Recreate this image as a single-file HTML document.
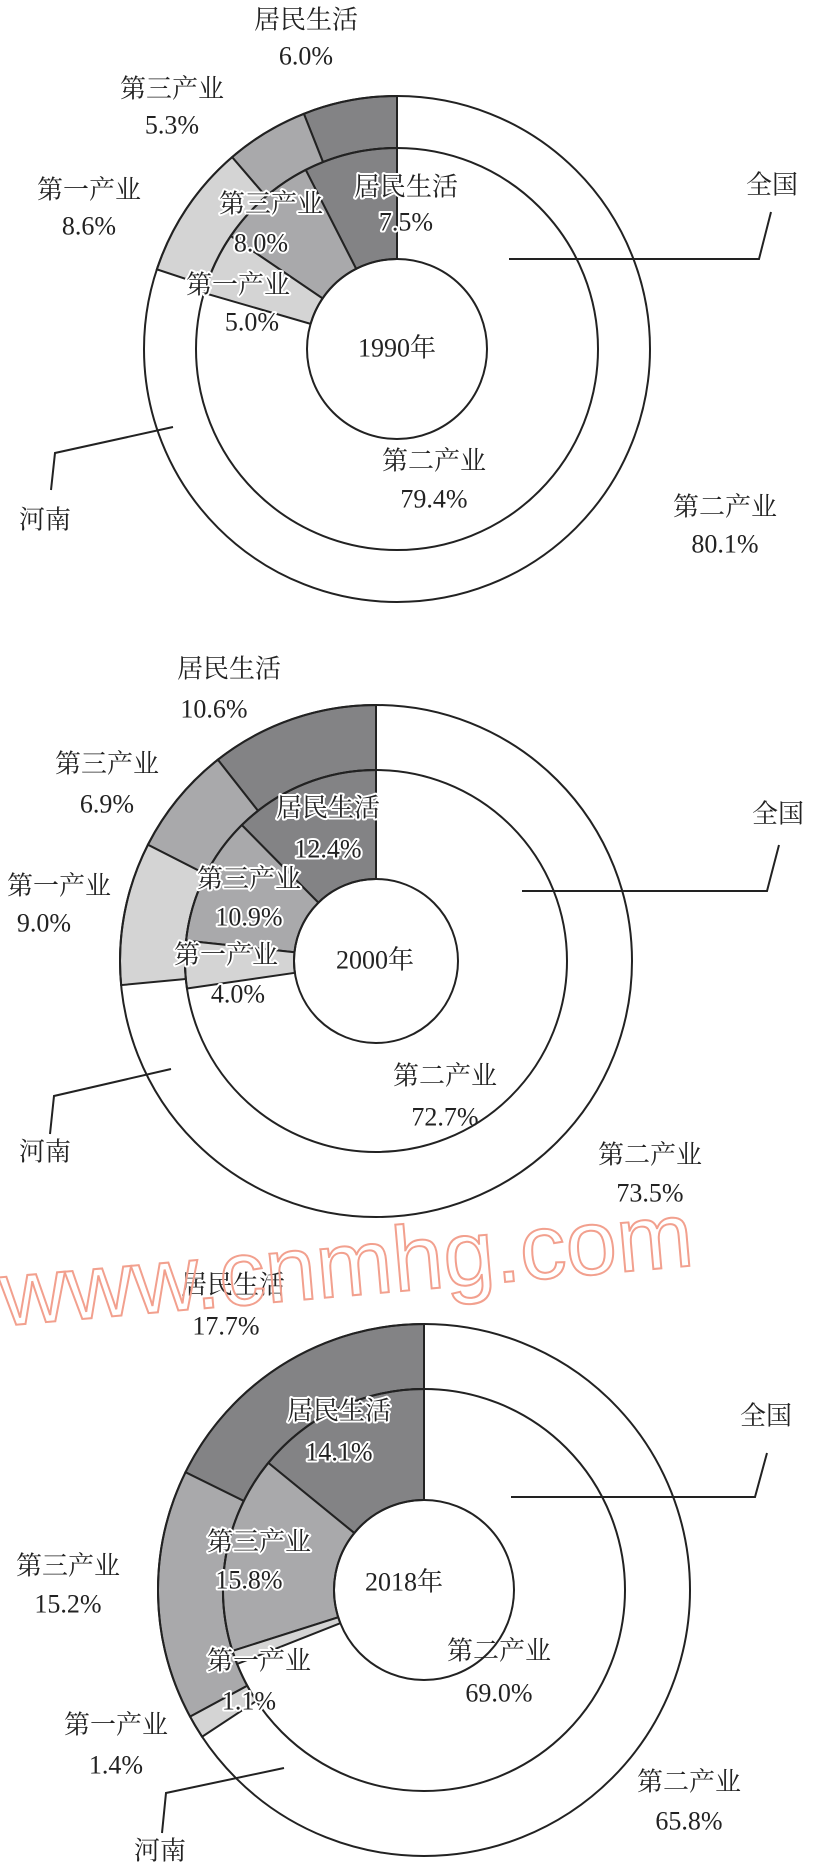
<!DOCTYPE html>
<html><head><meta charset="utf-8">
<style>
html,body{margin:0;padding:0;background:#fff;}
svg{display:block;}
text{font-family:"Liberation Serif","Noto Serif CJK SC","Noto Sans CJK SC",serif;font-size:26px;fill:#222;text-anchor:middle;dominant-baseline:central;}
.h{stroke:#fff;stroke-width:4px;paint-order:stroke;stroke-linejoin:round;}
.wm{font-family:"Liberation Sans",sans-serif;font-size:92px;fill:none;stroke:#f2a08e;stroke-width:2px;text-anchor:start;}
</style></head>
<body>
<svg id="s" width="814" height="1872" viewBox="0 0 814 1872" xmlns="http://www.w3.org/2000/svg">
<g id="charts"></g>
<g fill="none" stroke="#222" stroke-width="2">
<polyline points="509,259 759,259 771,212"/>
<polyline points="173,427 55,453 51,490"/>
<polyline points="522,891 767,891 779,845"/>
<polyline points="171,1069 54,1096 50,1134"/>
<polyline points="511,1497 755,1497 767,1453"/>
<polyline points="284,1768 166,1793 162,1833"/>
</g>
<!-- chart 1 -->
<text x="306" y="20">居民生活</text><text x="306" y="56">6.0%</text>
<text x="172" y="89">第三产业</text><text x="172" y="125">5.3%</text>
<text x="89" y="190">第一产业</text><text x="89" y="226">8.6%</text>
<text class="h" x="271" y="204">第三产业</text><text class="h" x="261" y="243">8.0%</text>
<text class="h" x="406" y="187">居民生活</text><text class="h" x="406" y="222">7.5%</text>
<text class="h" x="238" y="285">第一产业</text><text class="h" x="252" y="322">5.0%</text>
<text x="397" y="348">1990年</text>
<text x="434" y="461">第二产业</text><text x="434" y="499">79.4%</text>
<text x="725" y="507">第二产业</text><text x="725" y="544">80.1%</text>
<text x="772" y="185">全国</text>
<text x="45" y="520">河南</text>
<!-- chart 2 -->
<text x="229" y="669">居民生活</text><text x="214" y="709">10.6%</text>
<text x="107" y="764">第三产业</text><text x="107" y="804">6.9%</text>
<text x="59" y="886">第一产业</text><text x="44" y="923">9.0%</text>
<text class="h" x="328" y="808">居民生活</text><text class="h" x="328" y="849">12.4%</text>
<text class="h" x="249" y="879">第三产业</text><text class="h" x="249" y="917">10.9%</text>
<text class="h" x="226" y="955">第一产业</text><text class="h" x="238" y="994">4.0%</text>
<text x="375" y="960">2000年</text>
<text x="445" y="1076">第二产业</text><text x="445" y="1117">72.7%</text>
<text x="650" y="1155">第二产业</text><text x="650" y="1193">73.5%</text>
<text x="778" y="814">全国</text>
<text x="45" y="1152">河南</text>
<!-- chart 3 -->
<text x="233" y="1285">居民生活</text><text x="226" y="1326">17.7%</text>
<text class="h" x="339" y="1411">居民生活</text><text class="h" x="339" y="1452">14.1%</text>
<text x="766" y="1416">全国</text>
<text class="h" x="259" y="1542">第三产业</text><text class="h" x="249" y="1580">15.8%</text>
<text x="404" y="1582">2018年</text>
<text x="68" y="1566">第三产业</text><text x="68" y="1604">15.2%</text>
<text class="h" x="259" y="1661">第一产业</text><text class="h" x="249" y="1701">1.1%</text>
<text x="499" y="1651">第二产业</text><text x="499" y="1693">69.0%</text>
<text x="116" y="1725">第一产业</text><text x="116" y="1765">1.4%</text>
<text x="689" y="1782">第二产业</text><text x="689" y="1821">65.8%</text>
<text x="160" y="1851">河南</text>
<text class="wm" x="0" y="1295" transform="rotate(-5 0 1295)">www.cnmhg.com</text>
</svg>
<script>
(function(){
var g=document.getElementById('charts'),NS='http://www.w3.org/2000/svg';
var C=['#838385','#a9a9ab','#d4d4d4'];
function pt(cx,cy,r,a){a=a*Math.PI/180;return [cx-r*Math.sin(a),cy-r*Math.cos(a)];}
function sector(cx,cy,R,r,a0,a1,fill){
 var p1=pt(cx,cy,R,a0),p2=pt(cx,cy,R,a1),p3=pt(cx,cy,r,a1),p4=pt(cx,cy,r,a0);
 var large=(a1-a0)>180?1:0;
 var d='M'+p1+' A'+R+','+R+' 0 '+large+' 0 '+p2+' L'+p3+' A'+r+','+r+' 0 '+large+' 1 '+p4+'Z';
 var e=document.createElementNS(NS,'path');e.setAttribute('d',d);e.setAttribute('fill',fill);
 e.setAttribute('stroke','#222');e.setAttribute('stroke-width','2');g.appendChild(e);
}
function circ(cx,cy,r){var e=document.createElementNS(NS,'circle');e.setAttribute('cx',cx);e.setAttribute('cy',cy);e.setAttribute('r',r);e.setAttribute('fill','none');e.setAttribute('stroke','#222');e.setAttribute('stroke-width','2');g.appendChild(e);}
function chart(cx,cy,R,M,H,outer,inner){
 [[R,M,outer],[M,H,inner]].forEach(function(ring){
  var a=0;ring[2].forEach(function(v,i){var b=a+v*3.6;sector(cx,cy,ring[0],ring[1],a,b,C[i]);a=b;});
 });
 circ(cx,cy,R);circ(cx,cy,M);circ(cx,cy,H);
}
chart(397,349,253,201,90,[6.0,5.3,8.6],[7.5,8.0,5.0]);
chart(376,961,256,191,82,[10.6,6.9,9.0],[12.4,10.9,4.0]);
chart(424,1590,266,201,90,[17.7,15.2,1.4],[14.1,15.8,1.1]);
})();
</script>
</body></html>
